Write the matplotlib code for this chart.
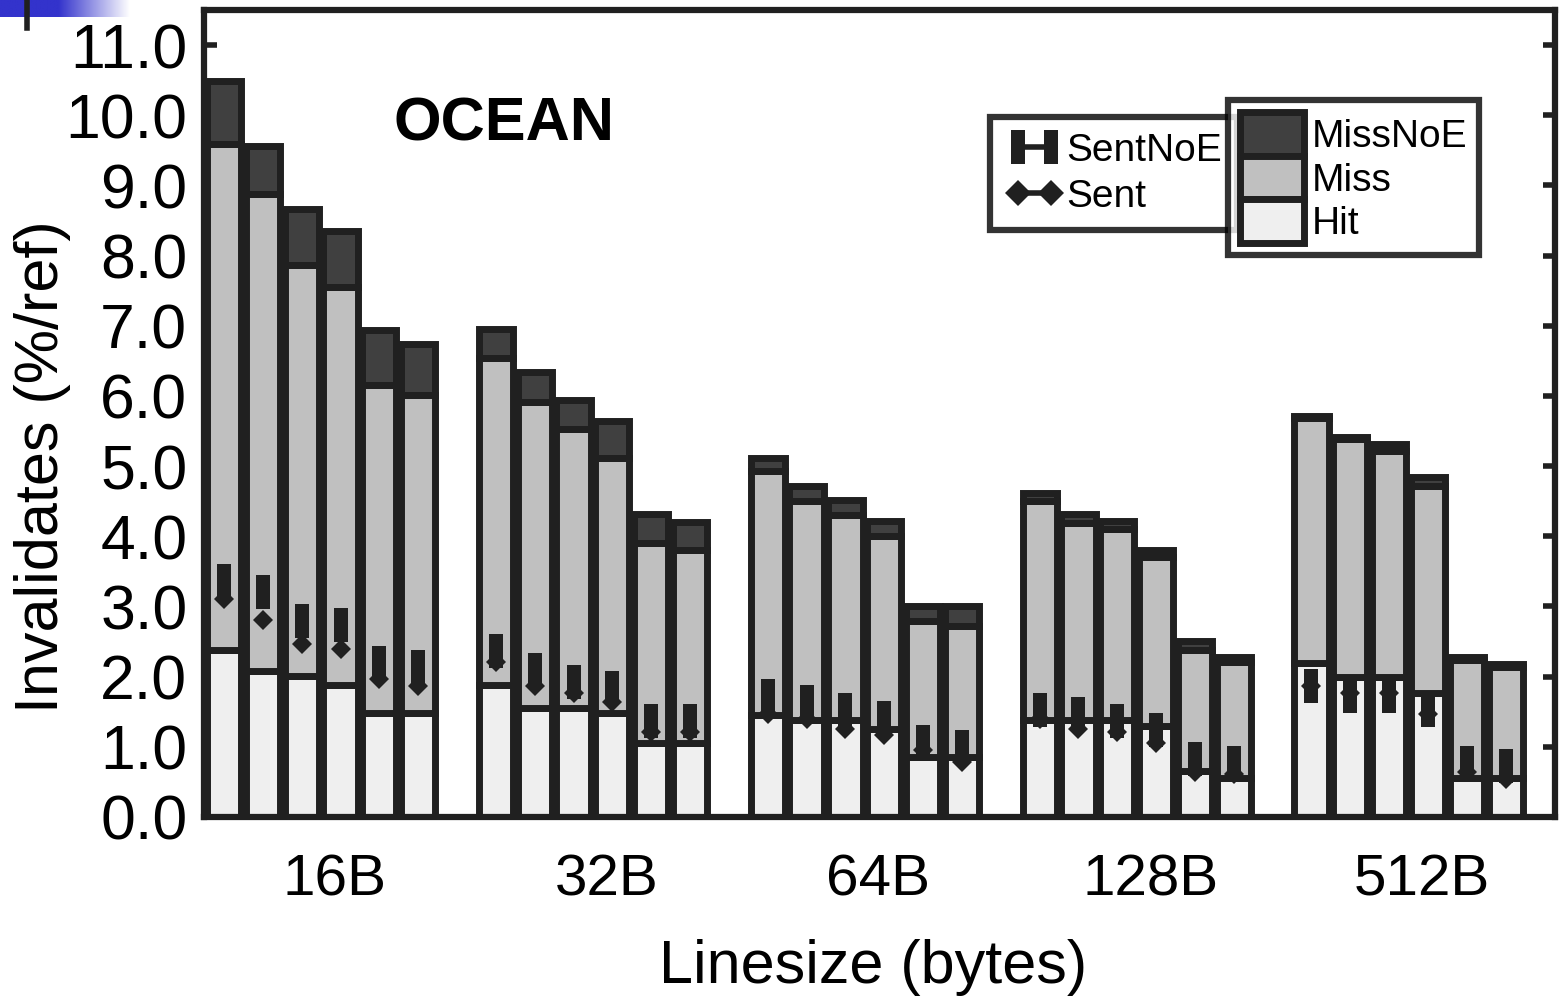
import numpy as np
import matplotlib
matplotlib.use('Agg')
import matplotlib.pyplot as plt
from matplotlib.lines import Line2D
from matplotlib.patches import Patch

plt.rcParams['font.family'] = ['Liberation Sans', 'DejaVu Sans']

# Data
groups = ['16B', '32B', '64B', '128B', '512B']

hit = [
    [2.38, 2.08, 2.01, 1.88, 1.48, 1.48],
    [1.88, 1.56, 1.56, 1.48, 1.05, 1.05],
    [1.45, 1.38, 1.38, 1.26, 0.86, 0.86],
    [1.38, 1.38, 1.38, 1.29, 0.66, 0.55],
    [2.19, 1.99, 1.99, 1.76, 0.55, 0.55],
]
miss_top = [
    [9.59, 8.88, 7.86, 7.55, 6.16, 6.02],
    [6.54, 5.92, 5.53, 5.12, 3.91, 3.81],
    [4.93, 4.51, 4.31, 4.00, 2.80, 2.72],
    [4.51, 4.19, 4.11, 3.71, 2.38, 2.21],
    [5.68, 5.38, 5.21, 4.71, 2.24, 2.14],
]
total = [
    [10.49, 9.56, 8.66, 8.35, 6.94, 6.74],
    [6.95, 6.34, 5.94, 5.64, 4.32, 4.21],
    [5.12, 4.71, 4.52, 4.22, 3.00, 3.00],
    [4.62, 4.32, 4.22, 3.81, 2.51, 2.28],
    [5.72, 5.42, 5.32, 4.84, 2.28, 2.18],
]
sent_noe = [
    [3.37, 3.21, 2.79, 2.74, 2.20, 2.14],
    [2.36, 2.10, 1.93, 1.84, 1.37, 1.37],
    [1.73, 1.64, 1.53, 1.41, 1.07, 1.00],
    [1.53, 1.47, 1.37, 1.24, 0.83, 0.77],
    [1.87, 1.73, 1.73, 1.53, 0.77, 0.73],
]
sent = [
    [3.10, 2.81, 2.47, 2.39, 1.97, 1.87],
    [2.21, 1.87, 1.76, 1.64, 1.21, 1.21],
    [1.47, 1.39, 1.26, 1.17, 0.96, 0.79],
    [1.39, 1.26, 1.21, 1.06, 0.64, 0.61],
    [1.86, 1.76, 1.76, 1.47, 0.64, 0.54],
]

EDGE = '#202020'
C_HIT = '#efefef'
C_MISS = '#c0c0c0'
C_NOE = '#404040'

fig = plt.figure(figsize=(15.59, 9.98), dpi=100)
ax = fig.add_axes([204/1559, (998-817)/998, (1555-204)/1559, (817-10)/998])

rect_marker = [(-0.22, -0.5), (0.22, -0.5), (0.22, 0.5), (-0.22, 0.5), (-0.22, -0.5)]

for g in range(len(groups)):
    x = np.arange(6) + g * 7
    h = np.array(hit[g])
    m = np.array(miss_top[g])
    t = np.array(total[g])
    ax.bar(x, h, width=0.88, color=C_HIT, edgecolor=EDGE, linewidth=5, zorder=2)
    ax.bar(x, m - h, bottom=h, width=0.88, color=C_MISS, edgecolor=EDGE, linewidth=5, zorder=2)
    ax.bar(x, t - m, bottom=m, width=0.88, color=C_NOE, edgecolor=EDGE, linewidth=5, zorder=2)
    ax.plot(x, sent_noe[g], linestyle='none', marker=rect_marker, markersize=24,
            color=EDGE, markeredgewidth=0, zorder=3)
    ax.plot(x, sent[g], linestyle='none', marker='D', markersize=10,
            color=EDGE, markeredgewidth=0, zorder=3)

ax.set_xlim(-0.515, 34.27)
ax.set_ylim(0, 11.5)
ax.set_yticks(np.arange(0, 12, 1.0))
ax.set_yticklabels(['%.1f' % v for v in np.arange(0, 12, 1.0)], fontsize=45)
ax.set_xticks([g * 7 + 2.85 for g in range(len(groups))])
ax.set_xticklabels(groups, fontsize=42)
ax.tick_params(axis='x', length=0, pad=26)
ax.tick_params(axis='y', direction='in', length=9, width=4, color=EDGE,
               right=True, pad=12)
for s in ax.spines.values():
    s.set_linewidth(4.5)
    s.set_color(EDGE)

ax.set_xlabel('Linesize (bytes)', fontsize=44)
ax.xaxis.set_label_coords(0.495, -0.151)
ax.set_ylabel('Invalidates (%/ref)', fontsize=44)
ax.yaxis.set_label_coords(-0.0985, 0.434)

ax.text(0.14, 0.857, 'OCEAN', transform=ax.transAxes, fontsize=44,
        fontweight='bold', va='center')

# Legends
h1 = [Line2D([], [], color=EDGE, lw=4, marker=rect_marker, markersize=24, markeredgewidth=0),
      Line2D([], [], color=EDGE, lw=4, marker='D', markersize=13, markeredgewidth=0)]
leg1 = ax.legend(h1, ['SentNoE', 'Sent'], loc='upper left', bbox_to_anchor=(0.582, 0.867),
                 borderaxespad=0, fontsize=28, frameon=True, fancybox=False,
                 edgecolor='black', handlelength=1.45, handletextpad=0.1,
                 numpoints=2, labelspacing=0.25, borderpad=0.4)
leg1.get_frame().set_linewidth(4.5)
ax.add_artist(leg1)

h2 = [Patch(facecolor=C_NOE, edgecolor=EDGE, linewidth=5),
      Patch(facecolor=C_MISS, edgecolor=EDGE, linewidth=5),
      Patch(facecolor=C_HIT, edgecolor=EDGE, linewidth=5)]
leg2 = ax.legend(h2, ['MissNoE', 'Miss', 'Hit'], loc='upper left', bbox_to_anchor=(0.758, 0.888),
                 borderaxespad=0, fontsize=28, frameon=True, fancybox=False,
                 edgecolor='black', handlelength=1.65, handleheight=1.35,
                 handletextpad=0.2, labelspacing=0.0, borderpad=0.3)
leg2.get_frame().set_linewidth(4.5)

# slide artefact at the top-left corner
corner = fig.add_axes([0, 1 - 17/998, 130/1559, 17/998])
grad = np.linspace(0, 1, 256)[None, :]
cols = np.zeros((1, 256, 3))
base = np.array([0.2, 0.2, 0.8])
w = np.clip((grad - 0.45) / 0.55, 0, 1)[..., None]
cols[:] = base * (1 - w) + w
corner.imshow(cols, aspect='auto')
corner.axis('off')
fig.add_artist(Line2D([27/1559, 27/1559], [1, 1 - 28/998], color='#202020', lw=4,
                      transform=fig.transFigure))

fig.savefig('out.png', dpi=100)
